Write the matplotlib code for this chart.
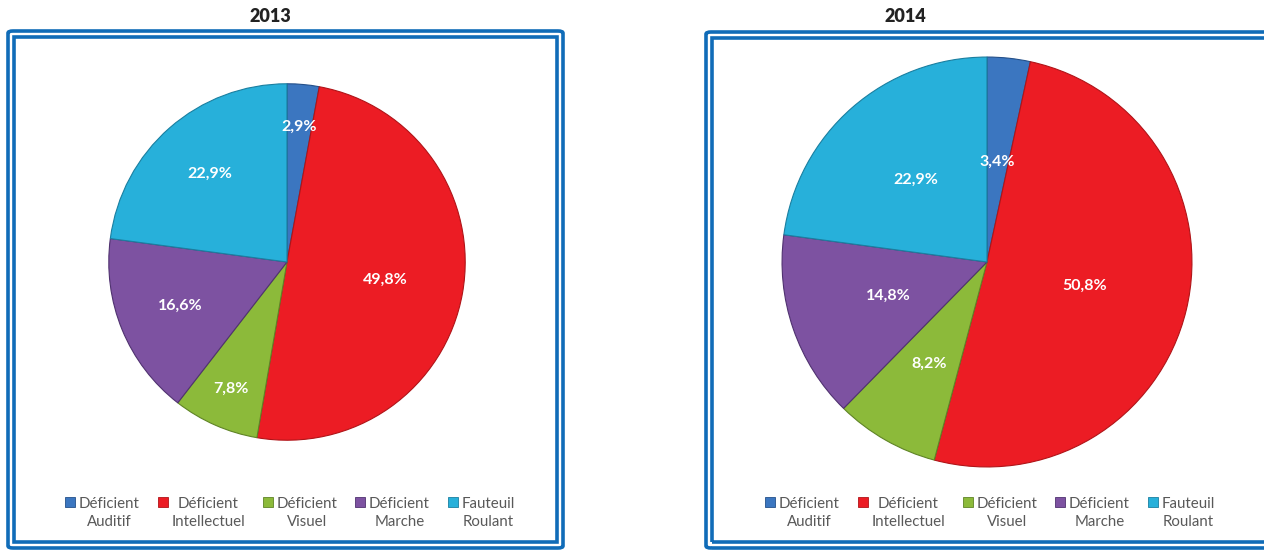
import matplotlib.pyplot as plt
import numpy as np
from matplotlib.patches import FancyBboxPatch, Patch

CATEGORIES = ["Déficient\nAuditif", "Déficient\nIntellectuel", "Déficient\nVisuel",
              "Déficient\nMarche", "Fauteuil\nRoulant"]
VALUES_2013 = [2.9, 49.8, 7.8, 16.6, 22.9]
VALUES_2014 = [3.4, 50.8, 8.2, 14.8, 22.9]
LABELS_2013 = ["2,9%", "49,8%", "7,8%", "16,6%", "22,9%"]
LABELS_2014 = ["3,4%", "50,8%", "8,2%", "14,8%", "22,9%"]

COLORS = ["#3B76C0", "#EC1C24", "#8CBA3A", "#7D52A1", "#27B0DA"]
EDGES = ["#24508A", "#B01418", "#5F8426", "#503270", "#1A7FA0"]
FRAME = "#106CB8"

W, H = 1264, 551
plt.rcParams["font.family"] = ["Lato", "DejaVu Sans"]
fig = plt.figure(figsize=(W / 100, H / 100), dpi=100, facecolor="white")


def px_box(x0, y0, x1, y1):
    return [x0 / W, 1 - y1 / H, (x1 - x0) / W, (y1 - y0) / H]


def frame(x0, y0, x1, y1, lw, r):
    l, b, w, h = px_box(x0, y0, x1, y1)
    fig.patches.append(FancyBboxPatch((l, b), w, h, boxstyle=f"round,pad=0,rounding_size={r}",
                                      transform=fig.transFigure, fill=False,
                                      edgecolor=FRAME, linewidth=lw))


frame(8, 31, 563, 548, 2.6, 0.004)
frame(14, 37, 557, 542, 2.6, 0.0)
frame(706, 32, 1275, 548, 2.6, 0.004)
frame(712, 38, 1269, 542, 2.6, 0.0)


def draw_pie(ax, values, labels, dists):
    wedges, _ = ax.pie(values, colors=COLORS, startangle=90, counterclock=False, radius=1.0,
                       wedgeprops={"linewidth": 0.8})
    for w, ec in zip(wedges, EDGES):
        w.set_edgecolor(ec)
    for w, lab, d in zip(wedges, labels, dists):
        ang = np.deg2rad((w.theta1 + w.theta2) / 2)
        ax.text(d * np.cos(ang), d * np.sin(ang), lab, ha="center", va="center",
                color="white", fontsize=11.5, fontweight="bold")
    ax.set_xlim(-1.01, 1.01)
    ax.set_ylim(-1.01, 1.01)
    ax.set_aspect("equal")
    ax.set_axis_off()


ax1 = fig.add_axes(px_box(107, 82, 467, 442))
draw_pie(ax1, VALUES_2013, LABELS_2013, [0.76, 0.56, 0.78, 0.65, 0.66])
ax2 = fig.add_axes(px_box(780, 55, 1194, 469))
draw_pie(ax2, VALUES_2014, LABELS_2014, [0.49, 0.49, 0.57, 0.51, 0.53])

fig.text(270 / W, 1 - 17 / H, "2013", ha="center", va="center", fontsize=13, fontweight="heavy",
         color="#222222")
fig.text(905 / W, 1 - 17 / H, "2014", ha="center", va="center", fontsize=13, fontweight="heavy",
         color="#222222")

handles = [Patch(facecolor=c, edgecolor=e, linewidth=0.6, label=l)
           for c, e, l in zip(COLORS, EDGES, CATEGORIES)]
for cx in (290, 990):
    leg = fig.legend(handles=handles, loc="center", bbox_to_anchor=(cx / W, 1 - 513 / H),
                     ncol=5, frameon=False, fontsize=10.8, handlelength=0.65, handleheight=0.65,
                     handletextpad=0.25, columnspacing=1.2, labelcolor="#595959")
    for t in leg.get_texts():
        t.set_multialignment("center")
        t.set_linespacing(1.35)
    for h in leg.legend_handles:
        h.set_y(h.get_y() + 8)

fig.savefig("out.png", dpi=100, facecolor="white")
